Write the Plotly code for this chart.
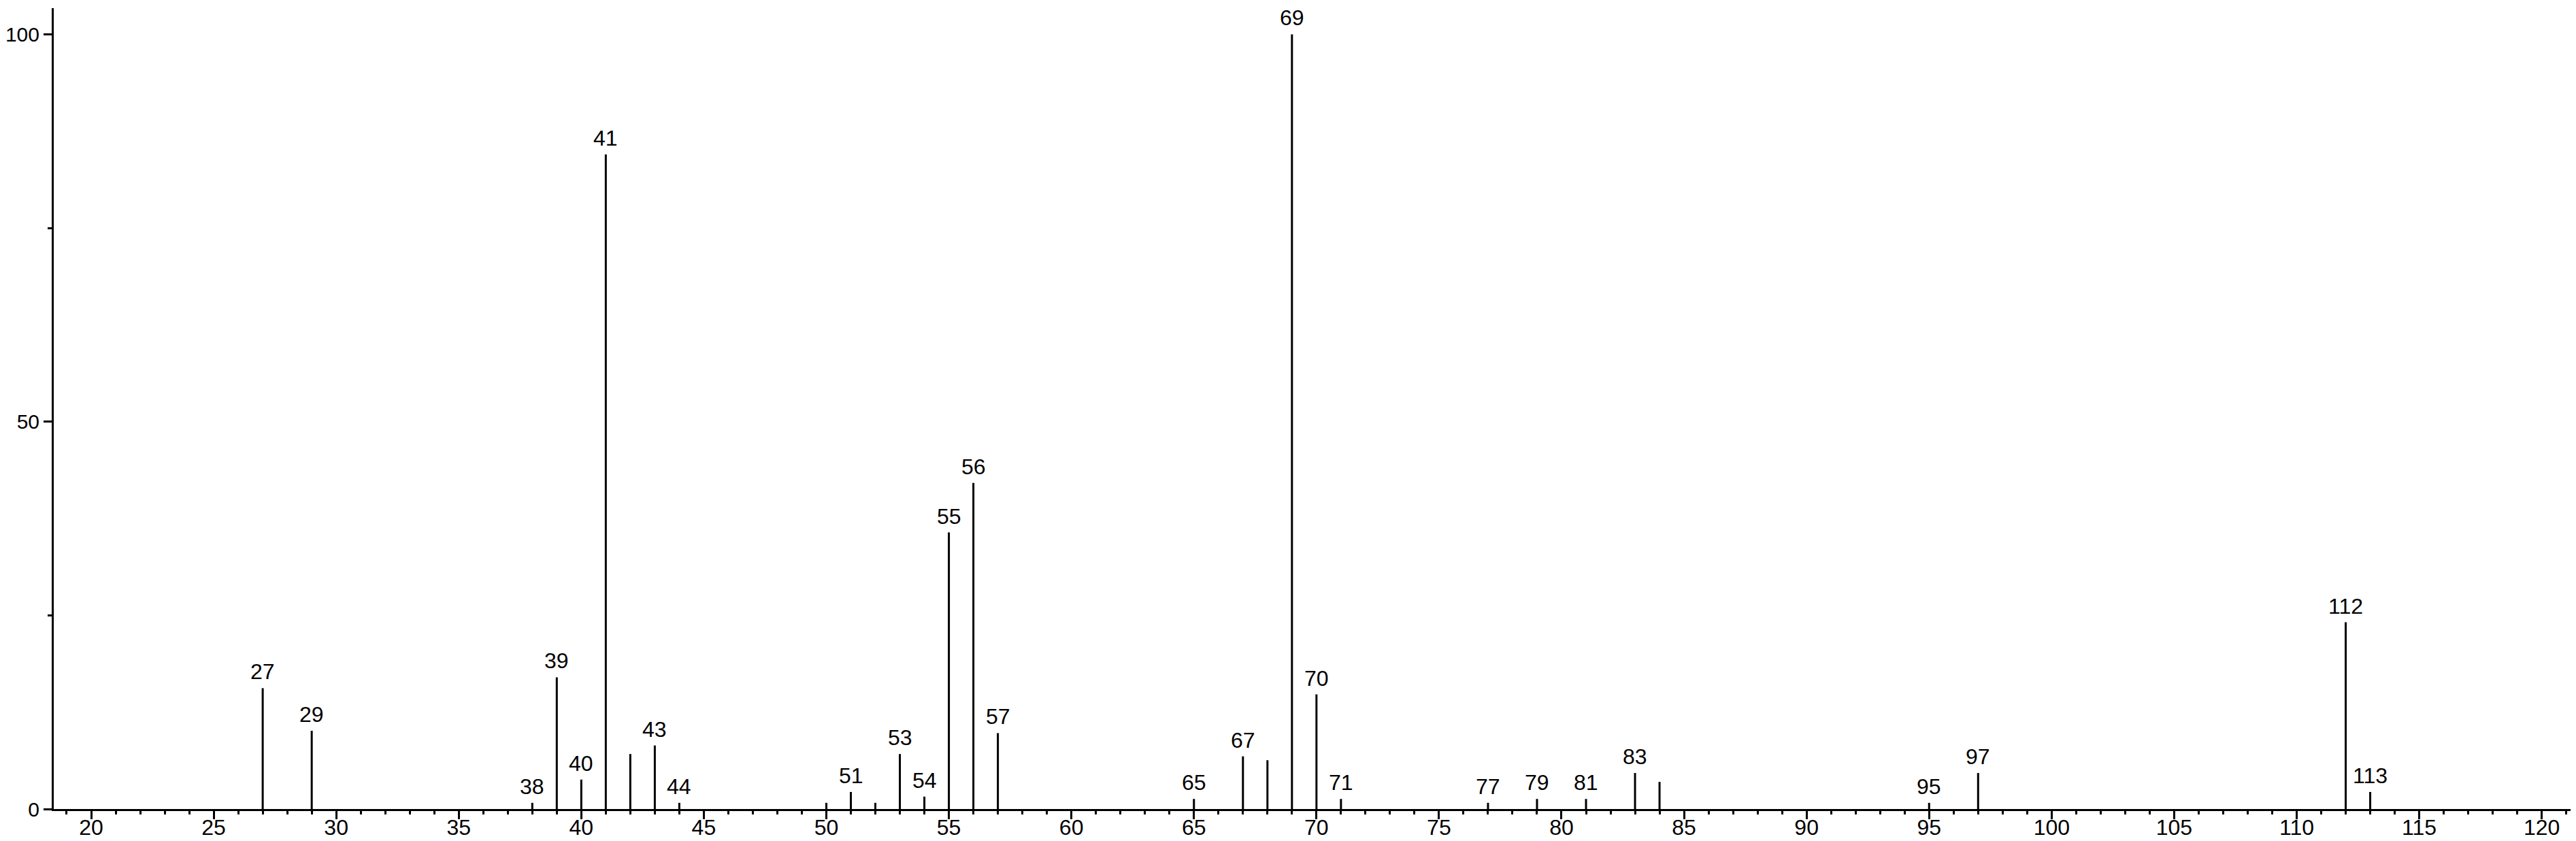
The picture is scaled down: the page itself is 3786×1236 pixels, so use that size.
import plotly.graph_objects as go

# m/z values of peaks
mz = [27, 29, 38, 39, 40, 41, 42, 43, 44, 50, 51, 52, 53, 54, 55, 56, 57,
      65, 67, 68, 69, 70, 71, 77, 79, 81, 83, 84, 95, 97, 112, 113]
# relative intensities
intensity = [15.6, 10.1, 0.8, 17.0, 3.8, 84.5, 7.1, 8.2, 0.8, 0.8, 2.2, 0.8,
             7.1, 1.6, 35.7, 42.1, 9.8, 1.3, 6.8, 6.3, 100.0, 14.8, 1.3, 0.8,
             1.3, 1.3, 4.65, 3.5, 0.8, 4.65, 24.1, 2.2]
# peaks that carry a label
labelled = [27, 29, 38, 39, 40, 41, 43, 44, 51, 53, 54, 55, 56, 57, 65, 67,
            69, 70, 71, 77, 79, 81, 83, 95, 97, 112, 113]

x_tick_vals = list(range(20, 121, 5))
y_tick_vals = [0, 50, 100]

FONT = "Liberation Sans, Arial, sans-serif"
FS = 32

# stick spectrum: vertical segments built from the data arrays
xs, ys = [], []
for m, h in zip(mz, intensity):
    xs += [m, m, None]
    ys += [0, h, None]

fig = go.Figure()
fig.add_trace(go.Scatter(x=xs, y=ys, mode="lines",
                         line=dict(color="black", width=3),
                         hoverinfo="skip", showlegend=False))

lookup = dict(zip(mz, intensity))
for m in labelled:
    fig.add_annotation(x=m, y=lookup[m], text=str(m), showarrow=False,
                       xanchor="center", yanchor="bottom", yshift=4,
                       font=dict(family=FONT, size=FS, color="black"))

fig.update_layout(
    width=3786, height=1236,
    margin=dict(l=71, r=0, t=4, b=55),
    paper_bgcolor="white", plot_bgcolor="white",
    showlegend=False,
    font=dict(family=FONT, size=FS, color="black"),
)
fig.update_xaxes(
    range=[18.473, 121.62], showgrid=False, zeroline=False, automargin=False,
    showline=True, linecolor="black", linewidth=3,
    tickmode="array", tickvals=x_tick_vals,
    ticks="outside", ticklen=12, tickwidth=3, tickcolor="black",
    ticklabelstandoff=-15,
    tickfont=dict(family=FONT, size=FS, color="black"),
    minor=dict(dtick=1, tick0=0, ticks="outside", ticklen=5,
               tickwidth=3, tickcolor="black", showgrid=False),
)
fig.update_yaxes(
    range=[0, 103.38], showgrid=False, zeroline=False, automargin=False,
    showline=True, linecolor="black", linewidth=3,
    tickmode="array", tickvals=y_tick_vals,
    ticks="outside", ticklen=12, tickwidth=3, tickcolor="black",
    tickfont=dict(family=FONT, size=30, color="black"),
    minor=dict(dtick=25, tick0=0, ticks="outside", ticklen=6,
               tickwidth=3, tickcolor="black", showgrid=False),
)

fig.write_html("out.html")
